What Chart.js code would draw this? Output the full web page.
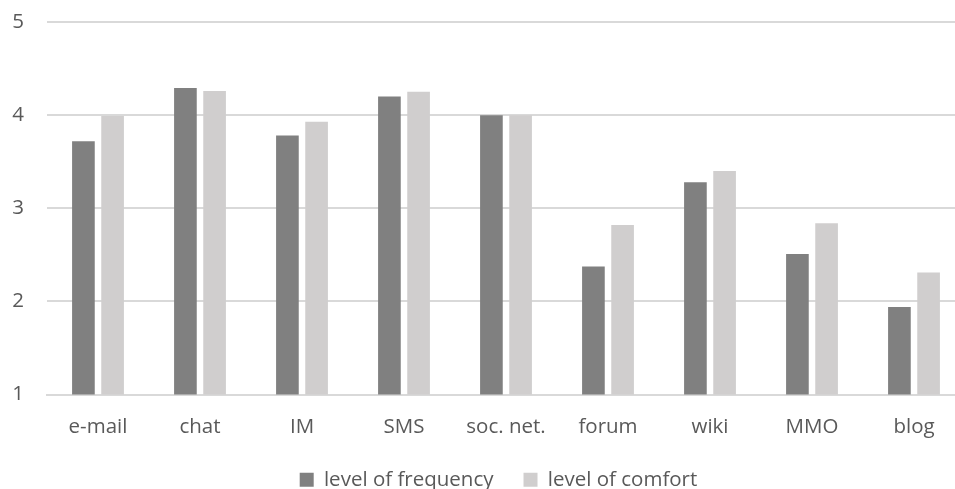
<!DOCTYPE html>
<html>
<head>
<meta charset="utf-8">
<script src="https://cdn.jsdelivr.net/npm/chart.js@4"></script>
<style>
  html, body { margin: 0; padding: 0; background: #fff; overflow: hidden; }
  #wrap { width: 997px; height: 500px; position: relative; }
</style>
</head>
<body>
<div id="wrap"><canvas id="c"></canvas></div>
<script>
const categories = ["e-mail", "chat", "IM", "SMS", "soc. net.", "forum", "wiki", "MMO", "blog"];
const frequency = [3.72, 4.29, 3.78, 4.20, 4.00, 2.375, 3.28, 2.51, 1.94];
const comfort = [3.99, 4.26, 3.93, 4.25, 4.00, 2.82, 3.40, 2.84, 2.31];
const yTicks = [1, 2, 3, 4, 5];
const seriesNames = ["level of frequency", "level of comfort"];

const FONT = "'Open Sans', sans-serif";
const TEXT = "#595959";

new Chart(document.getElementById("c"), {
  type: "bar",
  data: {
    labels: categories,
    datasets: [
      { label: seriesNames[0], data: frequency, backgroundColor: "#808080", borderWidth: 0,
        categoryPercentage: 0.572, barPercentage: 0.777 },
      { label: seriesNames[1], data: comfort, backgroundColor: "#d0cece", borderWidth: 0,
        categoryPercentage: 0.572, barPercentage: 0.777 }
    ]
  },
  options: {
    responsive: true,
    maintainAspectRatio: false,
    animation: false,
    layout: { padding: { top: 22, left: 0, right: 0, bottom: 0 } },
    plugins: {
      tooltip: { enabled: false },
      legend: {
        position: "bottom",
        labels: {
          font: { family: FONT, size: 20.5 },
          color: TEXT,
          boxWidth: 14,
          boxHeight: 14,
          padding: 30
        }
      }
    },
    scales: {
      x: {
        afterFit: (s) => { s.height = 45; },
        grid: { display: false },
        border: { display: true, color: "#d9d9d9", width: 2 },
        ticks: { font: { family: FONT, size: 20.5 }, color: TEXT, padding: 12, maxRotation: 0, autoSkip: false }
      },
      y: {
        min: 1, max: 5,
        afterFit: (s) => { s.width = 47; s.paddingTop = 0; s.paddingBottom = 0; },
        afterBuildTicks: (s) => { s.ticks = yTicks.map(v => ({ value: v })); },
        grid: { color: "#d9d9d9", lineWidth: 2, drawTicks: false },
        border: { display: false },
        ticks: { font: { family: FONT, size: 20.5 }, color: TEXT, padding: 23 }
      },
      y2: {
        position: "right",
        display: true,
        afterFit: (s) => { s.width = 32; s.paddingTop = 0; s.paddingBottom = 0; },
        grid: { display: false, drawOnChartArea: false },
        border: { display: false },
        ticks: { display: false }
      }
    }
  }
});
</script>
</body>
</html>
